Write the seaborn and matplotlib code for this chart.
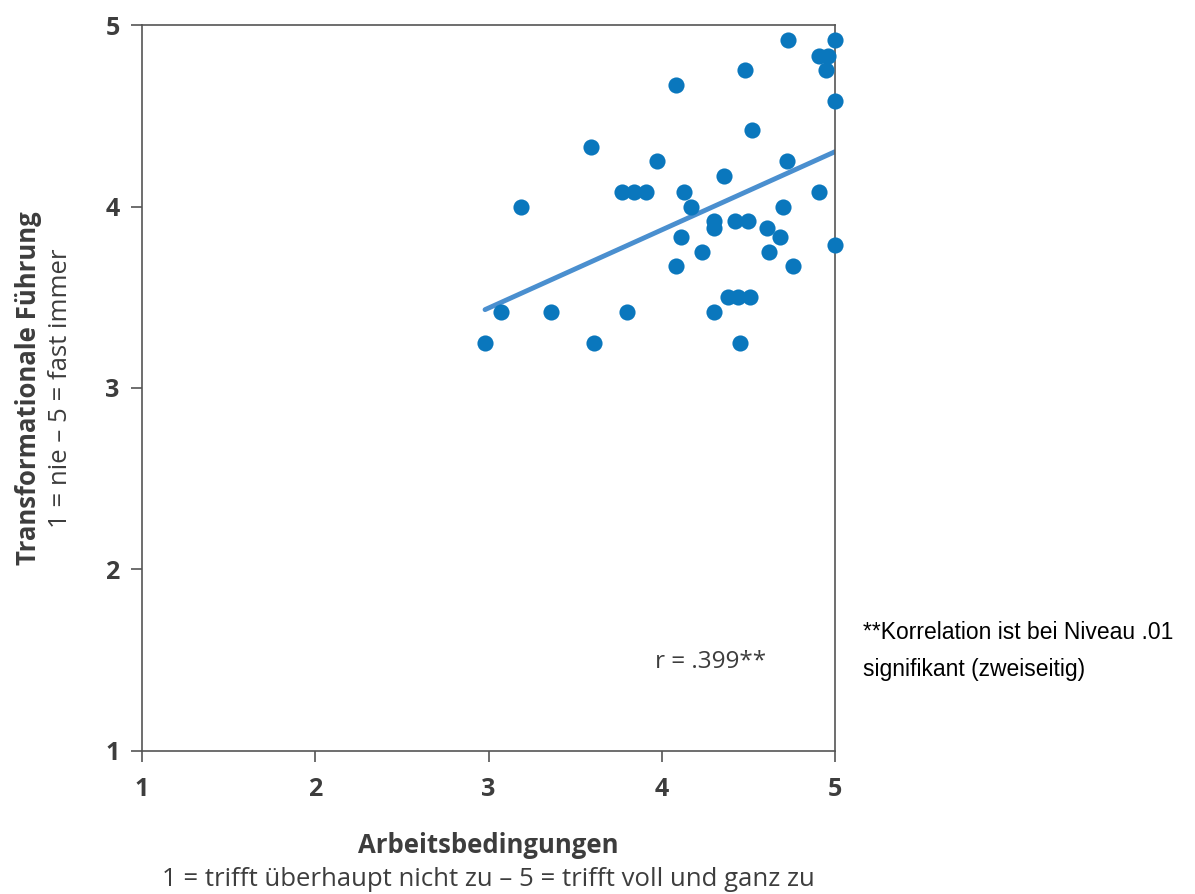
import numpy as np
import pandas as pd
import seaborn as sns
import matplotlib.pyplot as plt

# === Data ===
arbeitsbedingungen = [4.73, 5.00, 4.91, 4.96, 4.95, 4.48, 4.08, 5.00, 4.52, 3.59,
                      3.97, 4.72, 4.36, 3.77, 3.84, 3.91, 4.13, 4.91, 3.19, 4.17,
                      4.70, 4.30, 4.30, 4.42, 4.50, 4.61, 4.11, 4.68, 5.00, 4.23,
                      4.62, 4.08, 4.76, 4.38, 4.44, 4.51, 3.07, 3.36, 3.80, 4.30,
                      2.98, 3.61, 4.45]
fuehrung = [4.92, 4.92, 4.83, 4.83, 4.75, 4.75, 4.67, 4.58, 4.42, 4.33,
            4.25, 4.25, 4.17, 4.08, 4.08, 4.08, 4.08, 4.08, 4.00, 4.00,
            4.00, 3.92, 3.88, 3.92, 3.92, 3.88, 3.83, 3.83, 3.79, 3.75,
            3.75, 3.67, 3.67, 3.50, 3.50, 3.50, 3.42, 3.42, 3.42, 3.42,
            3.25, 3.25, 3.25]
ticks = [1, 2, 3, 4, 5]

df = pd.DataFrame({"x": arbeitsbedingungen, "y": fuehrung})

sns.set_style("white")
plt.rcParams["font.family"] = ["Open Sans", "DejaVu Sans"]

fig = plt.figure(figsize=(11.95, 8.94), dpi=100)
ax = fig.add_axes([0.1188, 0.16, 0.58, 0.812])

sns.regplot(data=df, x="x", y="y", ax=ax, ci=None, truncate=True,
            scatter_kws=dict(s=135, color="#0a77bd", alpha=1, linewidths=0,
                             clip_on=False, zorder=3),
            line_kws=dict(color="#4a8fcf", linewidth=3.5, zorder=2))

ax.set_xlim(1, 5)
ax.set_ylim(1, 5)
ax.set_xticks(ticks)
ax.set_yticks(ticks)
ax.set_xticklabels([str(t) for t in ticks], fontsize=18, fontweight="bold", color="#3d3d3d")
ax.set_yticklabels([str(t) for t in ticks], fontsize=18, fontweight="bold", color="#3d3d3d")
ax.tick_params(axis="both", bottom=True, left=True, direction="out",
               length=8, width=1.2, color="#555555")
ax.tick_params(axis="x", pad=11)
ax.tick_params(axis="y", pad=8)
for sp in ax.spines.values():
    sp.set_visible(True)
    sp.set_color("#555555")
    sp.set_linewidth(1.2)
ax.set_xlabel("")
ax.set_ylabel("")

ax.text(4.28, 1.49, "r = .399**", fontsize=17.5, color="#3d3d3d", ha="center", va="center")

# axis titles
fig.text(0.4088, 0.054, "Arbeitsbedingungen", fontsize=18.5, fontweight="bold",
         color="#3d3d3d", ha="center", va="center")
fig.text(0.4088, 0.016, "1 = trifft überhaupt nicht zu – 5 = trifft voll und ganz zu",
         fontsize=18.5, color="#3d3d3d", ha="center", va="center")
fig.text(0.024, 0.566, "Transformationale Führung", fontsize=18.5, fontweight="bold",
         color="#3d3d3d", ha="center", va="center", rotation=90)
fig.text(0.051, 0.566, "1 = nie – 5 = fast immer", fontsize=18.5,
         color="#3d3d3d", ha="center", va="center", rotation=90)

# footnote
fig.text(0.722, 0.293, "**Korrelation ist bei Niveau .01", fontsize=16.5,
         family="Liberation Sans", color="black", ha="left", va="center")
fig.text(0.722, 0.251, "signifikant (zweiseitig)", fontsize=16.5,
         family="Liberation Sans", color="black", ha="left", va="center")

fig.savefig("out.png", dpi=100)
